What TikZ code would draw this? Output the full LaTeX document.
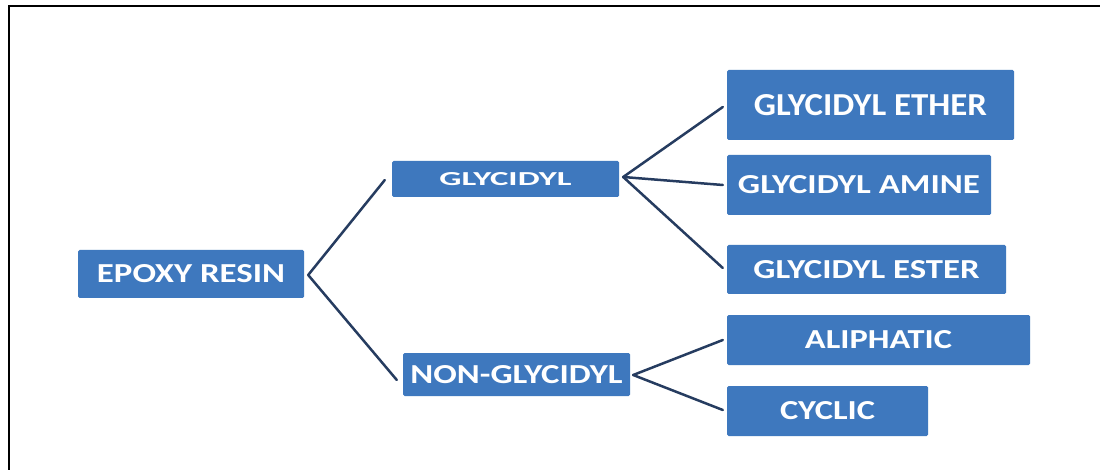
\documentclass[tikz,border=0pt]{standalone}
\usepackage{fontspec}
\setmainfont{Carlito}
\usetikzlibrary{calc}
\definecolor{boxblue}{RGB}{62,120,190}
\definecolor{linenavy}{RGB}{38,60,96}
\newcommand{\lbl}[3]{\resizebox{#1pt}{#2pt}{\bfseries #3}}
\begin{document}
\begin{tikzpicture}[x=1pt,y=-1pt,
  catbox/.style={fill=boxblue, draw=none, rounded corners=1.5pt, inner sep=0pt, text=white, anchor=center},
  conn/.style={draw=linenavy, line width=2.5pt, line cap=round}]
\useasboundingbox (0,0) rectangle (1100,470);
\fill[white] (0,0) rectangle (1100,470);
\draw[black, line width=2.8pt] (9,470) -- (9,6) -- (1100,6);

\node[catbox, minimum width=226pt, minimum height=48pt] (epoxy) at (191,274) {\lbl{188}{18}{EPOXY RESIN}};
\node[catbox, minimum width=227pt, minimum height=36pt] (gly) at (505.5,179) {\lbl{132}{13}{GLYCIDYL}};
\node[catbox, minimum width=227pt, minimum height=43pt] (non) at (516.5,374.5) {\lbl{212}{18}{NON-GLYCIDYL}};
\node[catbox, minimum width=287pt, minimum height=70pt] (ether) at (870.5,105) {\lbl{233}{21}{GLYCIDYL ETHER}};
\node[catbox, minimum width=264pt, minimum height=60pt] (amine) at (859,185) {\lbl{242}{18}{GLYCIDYL AMINE}};
\node[catbox, minimum width=279pt, minimum height=49pt] (ester) at (866.5,269.5) {\lbl{226}{18}{GLYCIDYL ESTER}};
\node[catbox, minimum width=303pt, minimum height=50pt] (aliph) at (878.5,340) {\lbl{147}{18}{ALIPHATIC}};
\node[catbox, minimum width=201pt, minimum height=50pt] (cyclic) at (827.5,411) {\lbl{95}{18}{CYCLIC}};

\draw[conn] ($(epoxy.east)+(4,1)$) -- ($(gly.west)+(-7,1)$);
\draw[conn] ($(epoxy.east)+(4,1)$) -- ($(non.west)+(-6,5.5)$);
\draw[conn] ($(gly.east)+(4,-2)$) -- ($(ether.west)+(-4,2)$);
\draw[conn] ($(gly.east)+(4,-2)$) -- ($(amine.west)+(-4,0)$);
\draw[conn] ($(gly.east)+(4,-2)$) -- ($(ester.west)+(-4,-1.5)$);
\draw[conn] ($(non.east)+(3,0.5)$) -- ($(aliph.west)+(-4,0)$);
\draw[conn] ($(non.east)+(3,0.5)$) -- ($(cyclic.west)+(-4,-1)$);
\end{tikzpicture}
\end{document}
